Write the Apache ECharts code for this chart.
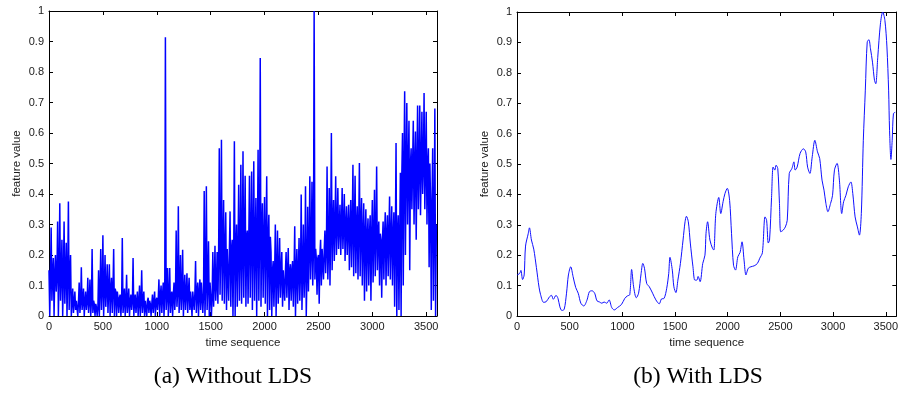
<!DOCTYPE html>
<html>
<head>
<meta charset="utf-8">
<script src="https://cdn.jsdelivr.net/npm/echarts@6/dist/echarts.min.js"></script>
<style>
html,body{margin:0;padding:0;background:#fff;}
#chart{width:901px;height:394px;}
</style>
</head>
<body>
<div id="chart"></div>
<script>
// ---- Panel (a): Without LDS — envelope read per 20-unit time bin ----
const binStartA = [];
for (let t = 0; t < 3600; t += 20) binStartA.push(t);
const highA = [
  0.15,0.29,0.19,0.20,0.31,0.37,0.25,0.31,0.24,0.375,0.20,0.09,0.08,0.05,0.11,0.16,0.09,0.08,0.125,0.12,
  0.22,0.04,0.03,0.15,0.22,0.265,0.20,0.17,0.17,0.125,0.22,0.08,0.06,0.07,0.256,0.09,0.135,0.09,0.07,0.19,
  0.07,0.08,0.10,0.15,0.08,
  0.05,0.06,0.04,0.07,0.08,0.06,0.12,0.10,0.11,0.914,0.157,0.157,0.08,0.11,0.28,0.36,0.20,0.217,0.135,0.14,
  0.125,0.086,0.08,0.18,0.11,0.12,0.07,0.41,0.425,0.245,0.07,0.21,0.23,0.21,0.55,0.578,0.38,0.34,0.22,0.343,
  0.25,0.573,0.30,0.43,0.496,0.54,0.46,
  0.28,0.46,0.474,0.507,0.387,0.545,0.846,0.37,0.39,0.458,0.332,0.21,0.18,0.30,0.28,0.256,0.21,0.15,0.21,0.223,
  0.17,0.18,0.294,0.22,0.256,0.398,0.30,0.425,0.358,0.458,0.44,1.0,0.19,0.20,0.25,0.22,0.28,0.49,0.42,0.60,
  0.38,0.458,0.42,
  0.365,0.42,0.40,0.36,0.365,0.38,0.496,0.46,0.36,0.502,0.387,0.37,0.35,0.32,0.33,0.38,0.414,0.49,0.31,0.25,
  0.31,0.34,0.33,0.392,0.36,0.34,0.567,0.33,0.47,0.60,0.737,0.698,0.64,0.55,0.64,0.605,0.69,0.69,0.67,0.731,
  0.67,0.55,0.38,0.55,0.68
];
const lowA = [
  0.0,0.05,0.0,0.08,0.0,0.05,0.0,0.04,0.0,0.02,0.0,0.01,0.02,0.0,0.01,0.02,0.0,0.02,0.01,0.0,
  0.01,0.0,0.0,0.0,0.02,0.0,0.03,0.01,0.0,0.01,0.0,0.0,0.01,0.0,0.01,0.0,0.01,0.0,0.02,0.0,
  0.01,0.0,0.0,0.01,0.0,
  0.0,0.01,0.0,0.01,0.0,0.02,0.0,0.01,0.0,0.02,0.0,0.01,0.0,0.02,0.03,0.01,0.02,0.0,0.02,0.01,
  0.02,0.0,0.02,0.01,0.0,0.02,0.01,0.0,0.02,0.0,0.0,0.03,0.05,0.04,0.07,0.05,0.04,0.02,0.05,0.03,
  0.0,0.0,0.03,0.05,0.04,0.06,0.03,
  0.04,0.06,0.02,0.05,0.0,0.05,0.03,0.06,0.04,0.0,0.02,0.0,0.03,0.0,0.04,0.06,0.03,0.05,0.06,0.02,
  0.05,0.03,0.0,0.04,0.05,0.02,0.06,0.0,0.08,0.12,0.10,0.12,0.07,0.04,0.10,0.12,0.14,0.12,0.10,0.15,
  0.18,0.20,0.22,
  0.20,0.22,0.18,0.20,0.15,0.16,0.13,0.14,0.12,0.13,0.10,0.05,0.08,0.10,0.05,0.11,0.13,0.15,0.10,0.06,
  0.12,0.10,0.13,0.12,0.10,0.03,0.0,0.02,0.0,0.10,0.20,0.30,0.15,0.35,0.30,0.25,0.35,0.33,0.40,0.35,
  0.30,0.16,0.02,0.05,0.0
];
// upper edge of the dense (nearly solid) core band, read per time segment
const coreStartA = [0, 200, 450, 650, 1000, 1150, 1400, 1550, 1800, 2050, 2400, 2600, 2900, 3250, 3550];
const coreLevelA = [0.14, 0.05, 0.09, 0.05, 0.07, 0.08, 0.11, 0.22, 0.26, 0.15, 0.22, 0.30, 0.27, 0.50, 0.30];

// ---- Panel (b): With LDS — smooth curve ----
const timeB = [0,25,37,53,68,81,106,118,137,159,184,209,224,252,277,308,327,345,370,389,407,426,448,470,488,510,532,557,581,606,634,665,687,712,737,759,784,805,827,852,874,899,923,955,992,1023,1048,1070,1088,1107,1132,1154,1178,1194,1210,1231,1256,1287,1318,1350,1371,1396,1421,1440,1452,1474,1489,1508,1527,1551,1576,1595,1608,1626,1645,1670,1688,1707,1719,1738,1763,1784,1794,1809,1831,1856,1868,1887,1915,1934,1956,1974,1996,2018,2036,2055,2074,2096,2117,2136,2155,2173,2195,2220,2251,2282,2304,2329,2354,2369,2385,2397,2416,2431,2447,2459,2475,2491,2503,2525,2547,2565,2584,2609,2628,2640,2659,2687,2718,2740,2758,2780,2802,2827,2852,2873,2895,2914,2932,2951,2976,2995,3013,3038,3060,3082,3100,3122,3144,3169,3187,3209,3231,3250,3268,3287,3306,3324,3340,3355,3374,3393,3405,3424,3449,3471,3492,3511,3527,3536,3549,3561,3573,3590];
const valueB = [0.135,0.14,0.15,0.12,0.135,0.23,0.27,0.29,0.25,0.22,0.16,0.095,0.07,0.045,0.047,0.063,0.068,0.055,0.068,0.058,0.03,0.018,0.022,0.075,0.135,0.162,0.13,0.094,0.075,0.042,0.033,0.053,0.08,0.083,0.075,0.05,0.046,0.042,0.046,0.042,0.053,0.028,0.02,0.028,0.038,0.058,0.066,0.07,0.153,0.096,0.06,0.075,0.14,0.173,0.157,0.107,0.096,0.075,0.053,0.04,0.056,0.058,0.091,0.14,0.193,0.151,0.096,0.077,0.118,0.173,0.25,0.31,0.328,0.31,0.24,0.162,0.118,0.118,0.13,0.113,0.173,0.2,0.272,0.31,0.25,0.222,0.217,0.337,0.39,0.337,0.376,0.403,0.42,0.38,0.272,0.167,0.151,0.195,0.209,0.244,0.184,0.135,0.157,0.162,0.165,0.173,0.19,0.208,0.326,0.315,0.24,0.25,0.39,0.49,0.48,0.496,0.485,0.37,0.277,0.282,0.293,0.315,0.469,0.485,0.507,0.48,0.49,0.535,0.55,0.54,0.49,0.469,0.524,0.578,0.54,0.518,0.447,0.414,0.37,0.343,0.37,0.397,0.48,0.502,0.447,0.337,0.376,0.397,0.425,0.441,0.403,0.326,0.293,0.266,0.337,0.578,0.743,0.901,0.909,0.879,0.835,0.775,0.764,0.851,0.96,1.0,0.972,0.885,0.743,0.611,0.515,0.578,0.666,0.67];

const xTickStep = 500;
const yTickStep = 0.1;
const captions = ['(a) Without LDS', '(b) With LDS'];
const xName = 'time sequence';
const yName = 'feature value';

// build series data: each bin goes peak -> trough -> core level
function coreAt(t) {
  let lvl = coreLevelA[0];
  for (let k = 0; k < coreStartA.length; k++) if (t >= coreStartA[k]) lvl = coreLevelA[k];
  return lvl;
}
const dataA = [];
for (let i = 0; i < binStartA.length; i++) {
  const t = binStartA[i];
  dataA.push([t, highA[i]]);
  dataA.push([t + 7, lowA[i]]);
  dataA.push([t + 14, Math.min(coreAt(t), highA[i])]);
}
const dataB = timeB.map((t, i) => [t, valueB[i]]);

const FONT = 'Liberation Sans, Arial, Helvetica, sans-serif';
const TXT = '#1a1a1a';
const lineC = {show: true, onZero: false, lineStyle: {color: '#000', width: 1}};

function xAx(grid, pos, labels) {
  return {
    type: 'value', gridIndex: grid, position: pos, min: 0, max: 3600, interval: xTickStep,
    axisLine: lineC,
    axisTick: {show: true, inside: true, length: 4, lineStyle: {color: '#000'}},
    splitLine: {show: false},
    axisLabel: {show: labels, showMaxLabel: false, margin: 5, fontSize: 11, fontFamily: FONT, color: TXT,
      formatter: v => String(v)},
    name: labels ? xName : '', nameLocation: 'middle', nameGap: 19,
    nameTextStyle: {fontSize: 11.5, fontFamily: FONT, color: TXT}
  };
}
function yAx(grid, pos, labels) {
  return {
    type: 'value', gridIndex: grid, position: pos, min: 0, max: 1, interval: yTickStep,
    axisLine: lineC,
    axisTick: {show: true, inside: true, length: 4, lineStyle: {color: '#000'}},
    splitLine: {show: false},
    axisLabel: {show: labels, margin: 5, fontSize: 11, fontFamily: FONT, color: TXT,
      formatter: v => String(+v.toFixed(1))},
    name: labels ? yName : '', nameLocation: 'middle', nameGap: 26, nameRotate: 90,
    nameTextStyle: {fontSize: 11.5, fontFamily: FONT, color: TXT}
  };
}

const chart = echarts.init(document.getElementById('chart'), null, {renderer: 'canvas'});
chart.setOption({
  animation: false,
  backgroundColor: '#fff',
  grid: [
    {left: 49, top: 11, width: 388, height: 305},
    {left: 517, top: 12, width: 385, height: 304}
  ],
  xAxis: [xAx(0, 'bottom', true), xAx(0, 'top', false), xAx(1, 'bottom', true), xAx(1, 'top', false)],
  yAxis: [yAx(0, 'left', true), yAx(0, 'right', false), yAx(1, 'left', true), yAx(1, 'right', false)],
  series: [
    {type: 'line', xAxisIndex: 0, yAxisIndex: 0, data: dataA, showSymbol: false, symbol: 'none',
     sampling: null, lineStyle: {color: '#0000ff', width: 1.5}, itemStyle: {color: '#0000ff'}},
    {type: 'line', xAxisIndex: 2, yAxisIndex: 2, data: dataB, showSymbol: false, symbol: 'none',
     smooth: 0.3, lineStyle: {color: '#1010ff', width: 1}, itemStyle: {color: '#1010ff'}}
  ],
  graphic: [
    {type: 'text', x: 233, y: 377, style: {text: captions[0], textAlign: 'center', textVerticalAlign: 'middle',
      fontSize: 23.5, fontFamily: 'Liberation Serif, Times New Roman, serif', fill: '#000'}},
    {type: 'text', x: 698, y: 377, style: {text: captions[1], textAlign: 'center', textVerticalAlign: 'middle',
      fontSize: 23.5, fontFamily: 'Liberation Serif, Times New Roman, serif', fill: '#000'}}
  ]
});
</script>
</body>
</html>
